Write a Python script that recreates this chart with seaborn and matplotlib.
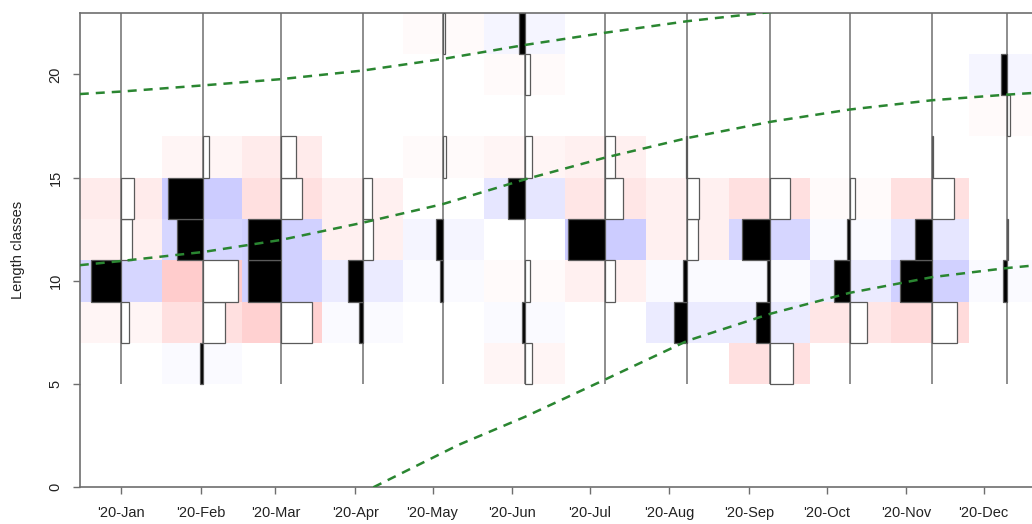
import numpy as np
import pandas as pd
import matplotlib
matplotlib.use("Agg")
import matplotlib.pyplot as plt
import matplotlib.dates as mdates
from matplotlib.colors import ListedColormap, Normalize, to_rgb
import seaborn as sns

# ---- data -------------------------------------------------------------
sample_dates = ["2020-01-01", "2020-02-02", "2020-03-03", "2020-04-04",
                "2020-05-05", "2020-06-06", "2020-07-07", "2020-08-08",
                "2020-09-09", "2020-10-10", "2020-11-11", "2020-12-10"]
mid_lengths = [6, 8, 10, 12, 14, 16, 18, 20, 22]
bin_width = 2

# restructured scores per sample, one value per length class (6 ... 22)
scores_jan = [0.00, -0.21, 0.80, -0.29, -0.35, 0.00, 0.00, 0.00, 0.00]
scores_feb = [0.08, -0.59, -0.93, 0.72, 0.96, -0.16, 0.00, 0.00, 0.00]
scores_mar = [0.00, -0.85, 0.88, 0.88, -0.56, -0.40, 0.00, 0.00, 0.00]
scores_apr = [0.00, 0.11, 0.41, -0.27, -0.24, 0.00, 0.00, 0.00, 0.00]
scores_may = [0.00, 0.00, 0.07, 0.19, 0.00, -0.08, 0.00, 0.00, -0.07]
scores_jun = [-0.17, 0.09, -0.13, 0.00, 0.45, -0.19, 0.00, -0.13, 0.16]
scores_jul = [0.00, 0.00, -0.26, 1.00, -0.47, -0.27, 0.00, 0.00, 0.00]
scores_aug = [0.00, 0.35, 0.12, -0.28, -0.32, 0.04, 0.00, 0.00, 0.00]
scores_sep = [-0.61, 0.36, 0.09, 0.75, -0.53, 0.00, 0.00, 0.00, 0.00]
scores_oct = [0.00, -0.46, 0.41, 0.07, -0.13, 0.00, 0.00, 0.00, 0.00]
scores_nov = [0.00, -0.66, 0.85, 0.45, -0.60, -0.03, 0.00, 0.00, 0.00]
scores_dec = [0.00, 0.00, 0.09, -0.03, 0.00, 0.00, -0.09, 0.15, 0.00]

# growth curves of three cohorts
cohort_a_dates = ["2019-12-16", "2020-01-01", "2020-02-02", "2020-03-03", "2020-04-04",
                  "2020-05-05", "2020-06-06", "2020-07-07", "2020-08-08", "2020-09-09",
                  "2020-10-10"]
cohort_a_lengths = [19.05, 19.17, 19.47, 19.77, 20.19, 20.75, 21.43, 22.02, 22.58, 23.02, 23.45]

cohort_b_dates = ["2019-12-16", "2020-01-01", "2020-02-02", "2020-03-03", "2020-04-04",
                  "2020-05-05", "2020-06-06", "2020-07-07", "2020-08-08", "2020-09-09",
                  "2020-10-10", "2020-11-11", "2020-12-10", "2020-12-25"]
cohort_b_lengths = [10.76, 10.96, 11.40, 11.98, 12.82, 13.72, 14.92, 15.97, 16.92, 17.70,
                    18.30, 18.75, 19.02, 19.14]

cohort_c_dates = ["2020-04-08", "2020-05-11", "2020-06-06", "2020-07-07", "2020-08-08",
                  "2020-09-09", "2020-10-10", "2020-11-11", "2020-12-10", "2020-12-25"]
cohort_c_lengths = [0.00, 2.05, 3.42, 5.22, 7.10, 8.40, 9.42, 10.18, 10.62, 10.80]

tick_dates = ["2020-01-01", "2020-02-01", "2020-03-01", "2020-04-01", "2020-05-01",
              "2020-06-01", "2020-07-01", "2020-08-01", "2020-09-01", "2020-10-01",
              "2020-11-01", "2020-12-01"]
tick_labels = ["'20-Jan", "'20-Feb", "'20-Mar", "'20-Apr", "'20-May", "'20-Jun",
               "'20-Jul", "'20-Aug", "'20-Sep", "'20-Oct", "'20-Nov", "'20-Dec"]
y_ticks = [0, 5, 10, 15, 20]

# ---- figure -----------------------------------------------------------
sns.set_style("white")
plt.rcParams["font.family"] = ["Liberation Sans", "DejaVu Sans"]
plt.rcParams["font.size"] = 10.5
plt.rcParams["text.color"] = "#222222"

scores = np.array([scores_jan, scores_feb, scores_mar, scores_apr, scores_may, scores_jun,
                   scores_jul, scores_aug, scores_sep, scores_oct, scores_nov, scores_dec])
dates = mdates.date2num(pd.to_datetime(sample_dates))
mids = np.array(mid_lengths, dtype=float)

# cell edges halfway between neighbouring samples
x_edges = np.concatenate([[dates[0] - (dates[1] - dates[0]) / 2],
                          (dates[:-1] + dates[1:]) / 2,
                          [dates[-1] + (dates[-1] - dates[-2]) / 2]])
y_edges = np.concatenate([mids - bin_width / 2, [mids[-1] + bin_width / 2]])

W, H = 1032, 524
fig = plt.figure(figsize=(W / 100, H / 100), dpi=100)
left_px, right_px = 79.8, 1044.1
bottom_px, top_px = 487.3, 12.5
ax = fig.add_axes([left_px / W, (H - bottom_px) / H,
                   (right_px - left_px) / W, (bottom_px - top_px) / H])

# background cells: red for negative, blue for positive scores
zmax = np.abs(scores).max()
lo, mid, hi = np.array(to_rgb((1, 0.8, 0.8))), np.array([1.0, 1.0, 1.0]), np.array(to_rgb((0.8, 0.8, 1)))
n_col = 21
cols = []
for t in np.linspace(-1, 1, n_col):
    cols.append(mid + (lo - mid) * (-t) if t < 0 else mid + (hi - mid) * t)
cmap = ListedColormap(cols)
ax.pcolormesh(x_edges, y_edges, scores.T, cmap=cmap,
              norm=Normalize(vmin=-zmax, vmax=zmax), shading="flat", zorder=1)

# sample lines
ax.vlines(dates, y_edges[0], y_edges[-1], color="#7a7a7a", linewidth=1.2, zorder=2)

# score bars: positive to the left in black, negative to the right in white
scale = 0.5 * np.min(np.diff(dates)) / zmax
for d, row in zip(dates, scores):
    nz = row != 0
    ax.barh(mids[nz], -row[nz] * scale, left=d, height=bin_width,
            color=["black" if v > 0 else "white" for v in row[nz]],
            edgecolor="#5a5a5a", linewidth=0.9, zorder=3)

# cohort growth curves
green = "#2a8631"
for cd, cl in [(cohort_a_dates, cohort_a_lengths),
               (cohort_b_dates, cohort_b_lengths),
               (cohort_c_dates, cohort_c_lengths)]:
    gx = mdates.date2num(pd.to_datetime(cd))
    sns.lineplot(x=gx, y=cl, ax=ax, color=green, linewidth=1.8,
                 estimator=None, sort=False, zorder=4)
    ax.lines[-1].set_dashes([3.6, 2.8])

# axes
ax.set_xlim(x_edges[0], x_edges[-1])
ax.set_ylim(0, y_edges[-1])
ax.set_xticks(mdates.date2num(pd.to_datetime(tick_dates)))
ax.set_xticklabels(tick_labels)
ax.set_yticks(y_ticks)
ax.set_yticklabels([str(v) for v in y_ticks], rotation=90, va="center")
ax.tick_params(axis="both", direction="out", length=5, width=1.0, color="#6e6e6e",
               labelcolor="#222222", labelsize=10.5, bottom=True, left=True)
ax.tick_params(axis="x", pad=8.5)
ax.tick_params(axis="y", pad=7.5)
ax.set_xlabel("")
ax.set_ylabel("Length classes", fontsize=10.5, color="#222222")
ax.yaxis.set_label_coords((25 - left_px) / (right_px - left_px), 0.5)
for s in ax.spines.values():
    s.set_color("#6e6e6e")
    s.set_linewidth(1.2)
    s.set_visible(True)

fig.savefig("out.png", dpi=100)
